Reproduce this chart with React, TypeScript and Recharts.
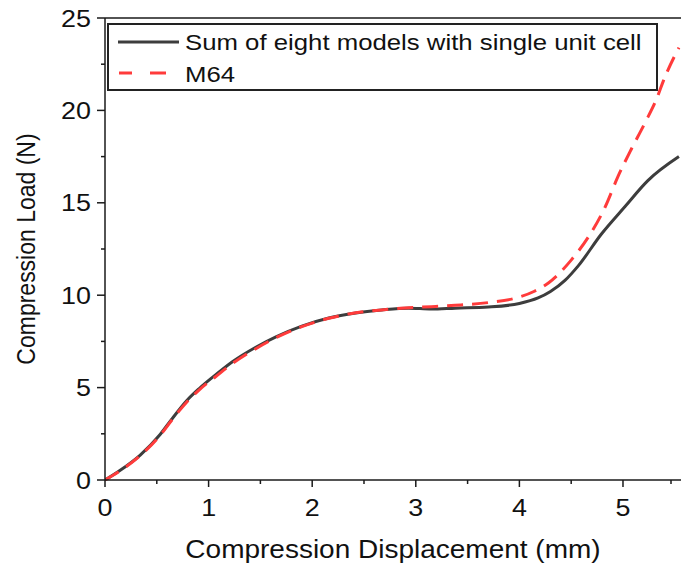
import { LineChart, Line, XAxis, YAxis, ReferenceLine } from "recharts";

const sumX = [0, 0.14, 0.34, 0.53, 0.65, 0.79, 0.91, 1.07, 1.23, 1.46, 1.65, 1.9, 2.16, 2.42, 2.67, 2.93, 3.15, 3.38, 3.7, 4.0, 4.18, 4.3, 4.44, 4.57, 4.79, 5.02, 5.24, 5.54];
const sumY = [0, 0.5, 1.35, 2.45, 3.33, 4.3, 4.95, 5.7, 6.4, 7.2, 7.75, 8.33, 8.77, 9.04, 9.2, 9.3, 9.25, 9.3, 9.36, 9.55, 9.85, 10.2, 10.8, 11.6, 13.3, 14.8, 16.2, 17.5];

const m64X = [0, 0.14, 0.34, 0.53, 0.65, 0.79, 0.91, 1.07, 1.23, 1.46, 1.65, 1.9, 2.16, 2.42, 2.67, 2.93, 3.15, 3.38, 3.7, 4.0, 4.14, 4.28, 4.5, 4.66, 4.83, 4.95, 5.08, 5.21, 5.33, 5.39, 5.54];
const m64Y = [0, 0.48, 1.32, 2.4, 3.28, 4.22, 4.88, 5.6, 6.3, 7.12, 7.7, 8.3, 8.75, 9.05, 9.2, 9.32, 9.38, 9.45, 9.6, 9.9, 10.2, 10.66, 11.9, 13.1, 14.8, 16.4, 17.9, 19.3, 20.7, 21.6, 23.4];

const xTicks = [0, 0.5, 1, 1.5, 2, 2.5, 3, 3.5, 4, 4.5, 5, 5.5];
const yTicks = [0, 2.5, 5, 7.5, 10, 12.5, 15, 17.5, 20, 22.5, 25];

const sumData = sumX.map((x, i) => ({ x, y: sumY[i] }));
const m64Data = m64X.map((x, i) => ({ x, y: m64Y[i] }));

const FONT = "'Liberation Sans', Arial, sans-serif";
const AXIS = "#1a1a1a";
const INK = "#111";
const SX = 1.12; // the original text is a bit wide

function XTick(props: any) {
  const { x, y, payload } = props;
  const major = Number.isInteger(payload.value);
  return (
    <g>
      <line x1={x} x2={x} y1={y} y2={y + (major ? 7 : 4)} stroke={AXIS} strokeWidth={1.5} />
      {major && (
        <text transform={`translate(${x},${y + 36}) scale(${SX},1)`} textAnchor="middle" fontSize={24} fontFamily={FONT} fill={INK}>
          {payload.value}
        </text>
      )}
    </g>
  );
}

function YTick(props: any) {
  const { x, y, payload } = props;
  const major = payload.value % 5 === 0;
  return (
    <g>
      <line x1={x} x2={x - (major ? 8 : 4)} y1={y} y2={y} stroke={AXIS} strokeWidth={1.5} />
      {major && (
        <text transform={`translate(${x - 14},${y + 8.5}) scale(${SX},1)`} textAnchor="end" fontSize={24} fontFamily={FONT} fill={INK}>
          {payload.value}
        </text>
      )}
    </g>
  );
}

function XLabel(props: any) {
  const { viewBox } = props;
  const cx = viewBox.x + viewBox.width / 2;
  return (
    <text transform={`translate(${cx},558) scale(${SX},1)`} textAnchor="middle" fontSize={25} fontFamily={FONT} fill={INK}>
      Compression Displacement (mm)
    </text>
  );
}

function YLabel(props: any) {
  const { viewBox } = props;
  const cy = viewBox.y + viewBox.height / 2;
  return (
    <text transform={`translate(35,${cy}) scale(${SX},1) rotate(-90)`} textAnchor="middle" fontSize={23} fontFamily={FONT} fill={INK}>
      Compression Load (N)
    </text>
  );
}

function LegendBox() {
  return (
    <svg width={552} height={69} style={{ position: "absolute", left: 107, top: 23 }}>
      <rect x={1} y={1} width={549} height={66} fill="#fff" stroke="#222" strokeWidth={2} />
      <line x1={11} x2={72} y1={19} y2={19} stroke="#3d3d3d" strokeWidth={3} />
      <text transform={`translate(78,27) scale(${SX},1)`} fontSize={23} fontFamily={FONT} fill={INK}>
        Sum of eight models with single unit cell
      </text>
      <line x1={12} x2={25} y1={50} y2={50} stroke="#ff3b3b" strokeWidth={3} />
      <line x1={43} x2={59} y1={50} y2={50} stroke="#ff3b3b" strokeWidth={3} />
      <text transform={`translate(78,59) scale(${SX},1)`} fontSize={23} fontFamily={FONT} fill={INK}>
        M64
      </text>
    </svg>
  );
}

export default function App() {
  return (
    <div style={{ position: "absolute", left: 0, top: 0, width: 681, height: 566, background: "#fff", overflow: "hidden" }}>
      <LineChart width={681} height={566} margin={{ top: 18, right: 0, bottom: 0, left: 0 }}>
        <XAxis
          type="number"
          dataKey="x"
          domain={[0, 5.56]}
          ticks={xTicks}
          allowDataOverflow
          height={86}
          tickSize={0}
          tickMargin={0}
          tick={<XTick />}
          stroke={AXIS}
          strokeWidth={1.5}
          label={<XLabel />}
        />
        <YAxis
          type="number"
          dataKey="y"
          domain={[0, 25]}
          ticks={yTicks}
          width={105}
          tickSize={0}
          tickMargin={0}
          tick={<YTick />}
          stroke={AXIS}
          strokeWidth={1.5}
          label={<YLabel />}
        />
        <ReferenceLine y={25} stroke={AXIS} strokeWidth={1.5} />
        <Line data={sumData} dataKey="y" type="monotone" stroke="#3d3d3d" strokeWidth={3} dot={false} isAnimationActive={false} />
        <Line data={m64Data} dataKey="y" type="monotone" stroke="#ff3b3b" strokeWidth={3} strokeDasharray="16 9" dot={false} isAnimationActive={false} />
      </LineChart>
      <LegendBox />
    </div>
  );
}
